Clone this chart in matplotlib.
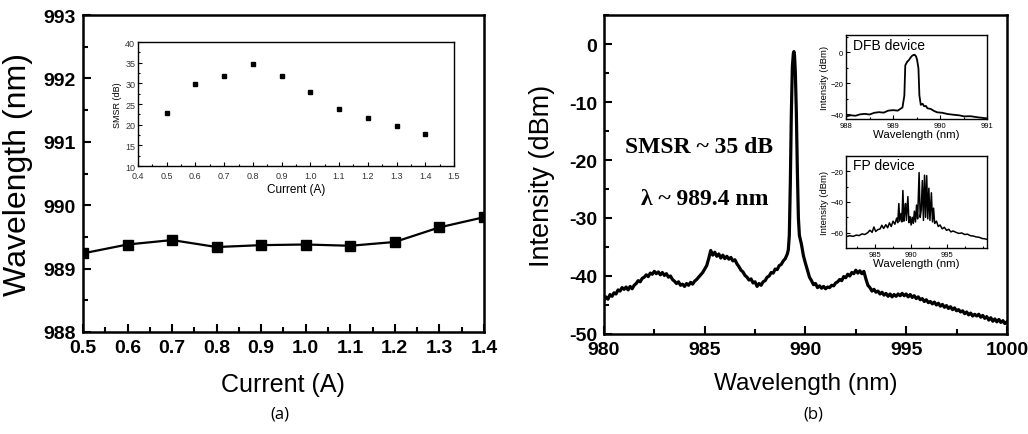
import matplotlib
matplotlib.use("Agg")
import matplotlib.pyplot as plt
from matplotlib.ticker import MultipleLocator

plt.rcParams['font.family'] = ['Liberation Sans', 'DejaVu Sans']

# (a) peak wavelength vs drive current
CURRENT = [0.5, 0.6, 0.7, 0.8, 0.9, 1.0, 1.1, 1.2, 1.3, 1.4]
PEAK_WL = [989.24, 989.38, 989.45, 989.34, 989.37, 989.38, 989.36, 989.42, 989.65, 989.81]
SMSR = [22.8, 29.8, 31.8, 34.8, 31.8, 27.8, 23.8, 21.7, 19.8, 17.8]

# (b) lasing spectrum at the operating point
SPEC_WL = [
    980.0, 980.1, 980.2, 980.3, 980.4, 980.5, 980.6, 980.7, 980.8, 980.9,
    981.0, 981.1, 981.2, 981.3, 981.4, 981.5, 981.6, 981.7, 981.8, 981.9,
    982.0, 982.1, 982.2, 982.3, 982.4, 982.5, 982.6, 982.7, 982.8, 982.9,
    983.0, 983.1, 983.2, 983.3, 983.4, 983.5, 983.6, 983.7, 983.8, 983.9,
    984.0, 984.1, 984.2, 984.3, 984.4, 984.5, 984.6, 984.7, 984.8, 984.9,
    985.0, 985.1, 985.2, 985.3, 985.4, 985.5, 985.6, 985.7, 985.8, 985.9,
    986.0, 986.1, 986.2, 986.3, 986.4, 986.5, 986.6, 986.7, 986.8, 986.9,
    987.0, 987.1, 987.2, 987.3, 987.4, 987.5, 987.6, 987.7, 987.8, 987.9,
    988.0, 988.1, 988.2, 988.3, 988.4, 988.5, 988.6, 988.7, 988.8, 988.9,
    989.0, 989.1, 989.15, 989.2, 989.25, 989.3, 989.35, 989.4, 989.43, 989.46,
    989.5, 989.55, 989.6, 989.65, 989.7, 989.8, 989.9, 990.0, 990.1, 990.2,
    990.3, 990.4, 990.5, 990.6, 990.7, 990.8, 990.9,
    991.0, 991.1, 991.2, 991.3, 991.4, 991.5, 991.6, 991.7, 991.8, 991.9,
    992.0, 992.1, 992.2, 992.3, 992.4, 992.5, 992.6, 992.7, 992.8, 992.9,
    993.0, 993.1, 993.2, 993.3, 993.4, 993.5, 993.6, 993.7, 993.8, 993.9,
    994.0, 994.1, 994.2, 994.3, 994.4, 994.5, 994.6, 994.7, 994.8, 994.9,
    995.0, 995.1, 995.2, 995.3, 995.4, 995.5, 995.6, 995.7, 995.8, 995.9,
    996.0, 996.1, 996.2, 996.3, 996.4, 996.5, 996.6, 996.7, 996.8, 996.9,
    997.0, 997.1, 997.2, 997.3, 997.4, 997.5, 997.6, 997.7, 997.8, 997.9,
    998.0, 998.1, 998.2, 998.3, 998.4, 998.5, 998.6, 998.7, 998.8, 998.9,
    999.0, 999.1, 999.2, 999.3, 999.4, 999.5, 999.6, 999.7, 999.8, 999.9,
    1000.0,
]
SPEC_DB = [
    -44.2, -43.6, -44.0, -43.2, -43.5, -42.9, -43.1, -42.4, -42.6, -42.0,
    -42.3, -41.9, -42.4, -41.8, -42.2, -41.6, -41.3, -40.8, -41.0, -40.4,
    -40.2, -39.8, -40.1, -39.5, -39.7, -39.2, -39.6, -39.3, -39.8, -39.4,
    -39.9, -39.6, -40.2, -40.0, -40.6, -40.9, -41.3, -41.0, -41.6, -41.4,
    -41.8, -41.3, -41.6, -41.1, -41.4, -40.9, -40.6, -40.2, -39.8, -39.4,
    -38.8, -38.2, -37.0, -35.6, -36.4, -35.9, -36.6, -36.2, -36.9, -36.4,
    -37.0, -36.6, -37.1, -36.8, -37.4, -37.2, -37.9, -38.4, -39.0, -39.3,
    -39.9, -40.2, -40.7, -40.5, -41.2, -41.0, -41.8, -41.3, -41.6, -41.0,
    -40.8, -40.2, -40.0, -39.4, -39.5, -38.8, -38.9, -38.2, -38.0, -37.4,
    -37.0, -36.2, -35.5, -33.0, -24.0, -12.0, -4.0, -1.6, -1.3, -2.0,
    -5.0, -12.0, -22.0, -30.0, -33.0, -34.5, -36.5, -37.8, -39.0, -40.2,
    -40.8, -41.5, -41.3, -42.0, -41.7, -42.1, -41.8,
    -42.2, -41.9, -42.0, -41.6, -41.7, -41.2, -41.0, -40.6, -40.8, -40.1,
    -40.3, -39.7, -40.0, -39.4, -39.6, -39.0, -39.5, -39.1, -39.6, -39.2,
    -40.5, -41.6, -42.0, -42.6, -42.3, -42.8, -42.6, -43.1, -42.8, -43.3,
    -43.0, -43.5, -43.1, -43.6, -43.2, -43.5, -43.1, -43.4, -43.0, -43.4,
    -43.1, -43.6, -43.2, -43.7, -43.4, -43.9, -43.6, -44.1, -43.9, -44.4,
    -44.1, -44.6, -44.4, -44.8, -44.5, -45.0, -44.7, -45.2, -44.9, -45.4,
    -45.1, -45.6, -45.3, -45.8, -45.5, -46.0, -45.8, -46.2, -46.0, -46.5,
    -46.2, -46.7, -46.4, -46.9, -46.6, -46.9, -46.6, -47.1, -46.8, -47.3,
    -47.0, -47.6, -47.2, -47.8, -47.4, -47.9, -47.5, -48.0, -47.7, -48.2,
    -47.9,
]

# inset: DFB device spectrum
DFB_WL = [988.0, 988.1, 988.2, 988.3, 988.4, 988.5, 988.6, 988.7, 988.8, 988.9,
          989.0, 989.1, 989.2, 989.24, 989.26, 989.3, 989.34, 989.38, 989.41, 989.44,
          989.46, 989.49, 989.51, 989.54, 989.56, 989.59, 989.63, 989.66, 989.7, 989.73,
          989.8, 989.87, 989.94, 990.05, 990.16, 990.3, 990.4, 990.51, 990.65, 990.8,
          991.0]
DFB_DB = [-41.3, -40.6, -40.9, -40.0, -39.7, -40.1, -39.0, -38.6, -38.9, -37.6,
          -37.3, -37.6, -35.6, -28.0, -8.5, -6.2, -5.0, -3.2, -2.2, -1.8,
          -1.7, -2.8, -4.8, -10.4, -27.8, -33.9, -33.2, -34.8, -34.6, -36.1,
          -36.5, -37.8, -38.7, -39.0, -39.8, -40.3, -40.6, -41.3, -41.2, -41.9,
          -42.6]

# inset: Fabry-Perot device spectrum
FP_WL = [981.1, 981.5, 982.0, 982.4, 982.8, 983.2, 983.6, 984.0, 984.3, 984.6,
         984.85, 985.1, 985.4, 985.7, 985.95, 986.2, 986.5, 986.75, 987.0, 987.25,
         987.5, 987.75, 988.0, 988.15, 988.3, 988.42, 988.6, 988.72, 988.86, 989.0,
         989.1, 989.22, 989.35, 989.55, 989.7, 989.85, 990.0, 990.15, 990.3, 990.45,
         990.6, 990.75, 990.9, 991.1, 991.25, 991.4, 991.55, 991.7, 991.85, 992.0,
         992.15, 992.3, 992.45, 992.6, 992.8, 992.95, 993.1, 993.25, 993.5, 993.75,
         994.0, 994.3, 994.6, 994.9, 995.2, 995.5, 995.8, 996.2, 996.6, 997.0,
         997.4, 997.8, 998.2, 998.6, 999.0, 999.4, 999.8, 1000.2, 1000.4]
FP_DB = [-62.5, -62.0, -62.4, -61.6, -61.9, -60.8, -61.2, -60.0, -58.4, -59.8,
         -56.3, -59.2, -58.0, -57.6, -55.2, -57.3, -54.8, -56.8, -53.6, -56.0,
         -52.5, -54.5, -50.5, -53.5, -41.0, -52.5, -47.5, -53.0, -32.5, -52.5,
         -47.0, -41.0, -52.0, -36.5, -53.5, -49.5, -55.0, -50.0, -54.0, -46.0,
         -53.0, -42.0, -51.0, -20.8, -50.0, -45.0, -26.0, -52.0, -22.5, -50.0,
         -22.8, -51.0, -31.0, -52.0, -34.0, -53.0, -44.0, -54.0, -52.5, -56.0,
         -55.0, -57.5, -56.5, -58.5, -57.8, -59.5, -58.9, -59.8, -60.5, -60.2,
         -61.2, -61.0, -62.0, -62.2, -62.8, -63.0, -63.8, -64.0, -64.3]


def style_main(ax):
    for s in ax.spines.values():
        s.set_linewidth(1.8)
    ax.tick_params(which='both', direction='in', top=False, right=False, width=1.5)
    ax.tick_params(which='major', length=6, labelsize=14, pad=5)
    ax.tick_params(which='minor', length=3.5)
    for lbl in ax.get_xticklabels() + ax.get_yticklabels():
        lbl.set_fontweight('bold')


def style_inset(ax, size):
    for s in ax.spines.values():
        s.set_linewidth(1.0)
    ax.tick_params(which='both', direction='in', width=0.8, labelsize=size, pad=2)
    ax.tick_params(which='major', length=3)
    ax.tick_params(which='minor', length=1.5)


fig = plt.figure(figsize=(10.28, 4.35), dpi=100)

# ---- (a) ----
ax1 = fig.add_axes([0.0807, 0.2345, 0.390, 0.7287])
ax1.plot(CURRENT, PEAK_WL, color='black', linewidth=1.6, marker='s', markersize=6.5)
ax1.set_xlim(0.5, 1.4)
ax1.set_ylim(988, 993)
ax1.xaxis.set_major_locator(MultipleLocator(0.1))
ax1.xaxis.set_minor_locator(MultipleLocator(0.05))
ax1.yaxis.set_major_locator(MultipleLocator(1))
ax1.yaxis.set_minor_locator(MultipleLocator(0.5))
ax1.set_xticklabels([f'{v:.1f}' for v in ax1.get_xticks()])
ax1.set_yticklabels([f'{v:.0f}' for v in ax1.get_yticks()])
style_main(ax1)
ax1.set_xlabel('Current (A)', fontsize=18)
ax1.set_ylabel('Wavelength (nm)', fontsize=23)
ax1.xaxis.set_label_coords(0.5, -0.125)
ax1.yaxis.set_label_coords(-0.125, 0.5)

ins1 = fig.add_axes([0.1342, 0.616, 0.3074, 0.285])
ins1.plot(CURRENT, SMSR, linestyle='none', marker='s', markersize=2.5, color='black')
ins1.set_xlim(0.4, 1.5)
ins1.set_ylim(10, 40)
ins1.xaxis.set_major_locator(MultipleLocator(0.1))
ins1.xaxis.set_minor_locator(MultipleLocator(0.05))
ins1.yaxis.set_major_locator(MultipleLocator(5))
ins1.yaxis.set_minor_locator(MultipleLocator(2.5))
ins1.set_xticklabels([f'{v:.1f}' for v in ins1.get_xticks()])
style_inset(ins1, 6.5)
ins1.tick_params(axis='x', pad=3.5)
for lbl in ins1.get_xticklabels() + ins1.get_yticklabels():
    lbl.set_color('#333333')
ins1.set_xlabel('Current (A)', fontsize=8.5, labelpad=2)
ins1.set_ylabel('SMSR (dB)', fontsize=6.5, labelpad=2)

# ---- (b) ----
ax2 = fig.add_axes([0.5875, 0.2299, 0.392, 0.7333])
ax2.plot(SPEC_WL, SPEC_DB, color='black', linewidth=2.3)
ax2.set_xlim(980, 1000)
ax2.set_ylim(-50, 5)
ax2.xaxis.set_major_locator(MultipleLocator(5))
ax2.xaxis.set_minor_locator(MultipleLocator(2.5))
ax2.yaxis.set_major_locator(MultipleLocator(10))
ax2.yaxis.set_minor_locator(MultipleLocator(5))
ax2.set_yticks([-50, -40, -30, -20, -10, 0])
ax2.set_xticklabels([f'{v:.0f}' for v in ax2.get_xticks()])
ax2.set_yticklabels([f'{v:.0f}' for v in ax2.get_yticks()])
style_main(ax2)
ax2.set_xlabel('Wavelength (nm)', fontsize=17.5)
ax2.set_ylabel('Intensity (dBm)', fontsize=19.5)
ax2.xaxis.set_label_coords(0.5, -0.118)
ax2.yaxis.set_label_coords(-0.122, 0.5)
ax2.text(984.7, -17.6, 'SMSR ~ 35 dB', family='Liberation Serif', fontweight='bold',
         fontsize=17, ha='center', va='center')
ax2.text(985.0, -26.6, 'λ ~ 989.4 nm', family='Liberation Serif', fontweight='bold',
         fontsize=17, ha='center', va='center')

ins2 = fig.add_axes([0.823, 0.7241, 0.1372, 0.1931])
ins2.plot(DFB_WL, DFB_DB, color='black', linewidth=1.3)
ins2.set_xlim(988, 991)
ins2.set_ylim(-43, 11)
ins2.set_xticks([988, 989, 990, 991])
ins2.set_yticks([-40, -20, 0])
ins2.xaxis.set_minor_locator(MultipleLocator(0.5))
ins2.yaxis.set_minor_locator(MultipleLocator(10))
style_inset(ins2, 5.5)
ins2.set_xlabel('Wavelength (nm)', fontsize=8.2, labelpad=0)
ins2.set_ylabel('Intensity (dBm)', fontsize=6.8, labelpad=1)
ins2.text(0.05, 0.96, 'DFB device', transform=ins2.transAxes, fontsize=10, va='top', ha='left')

ins3 = fig.add_axes([0.823, 0.4276, 0.1372, 0.2115])
ins3.plot(FP_WL, FP_DB, color='black', linewidth=1.1)
ins3.set_xlim(981, 1000.5)
ins3.set_ylim(-70, -10)
ins3.set_xticks([985, 990, 995])
ins3.set_yticks([-60, -40, -20])
ins3.xaxis.set_minor_locator(MultipleLocator(2.5))
ins3.yaxis.set_minor_locator(MultipleLocator(10))
style_inset(ins3, 5.5)
ins3.set_xlabel('Wavelength (nm)', fontsize=8.2, labelpad=0)
ins3.set_ylabel('Intensity (dBm)', fontsize=6.8, labelpad=1)
ins3.text(0.05, 0.98, 'FP device', transform=ins3.transAxes, fontsize=10, va='top', ha='left')

# panel captions
fig.text(280 / 1028, 1 - 415 / 435, '(a)', fontsize=12, ha='center', va='center', family='Open Sans')
fig.text(813 / 1028, 1 - 415 / 435, '(b)', fontsize=12, ha='center', va='center', family='Open Sans')

fig.savefig('out.png', dpi=100)
